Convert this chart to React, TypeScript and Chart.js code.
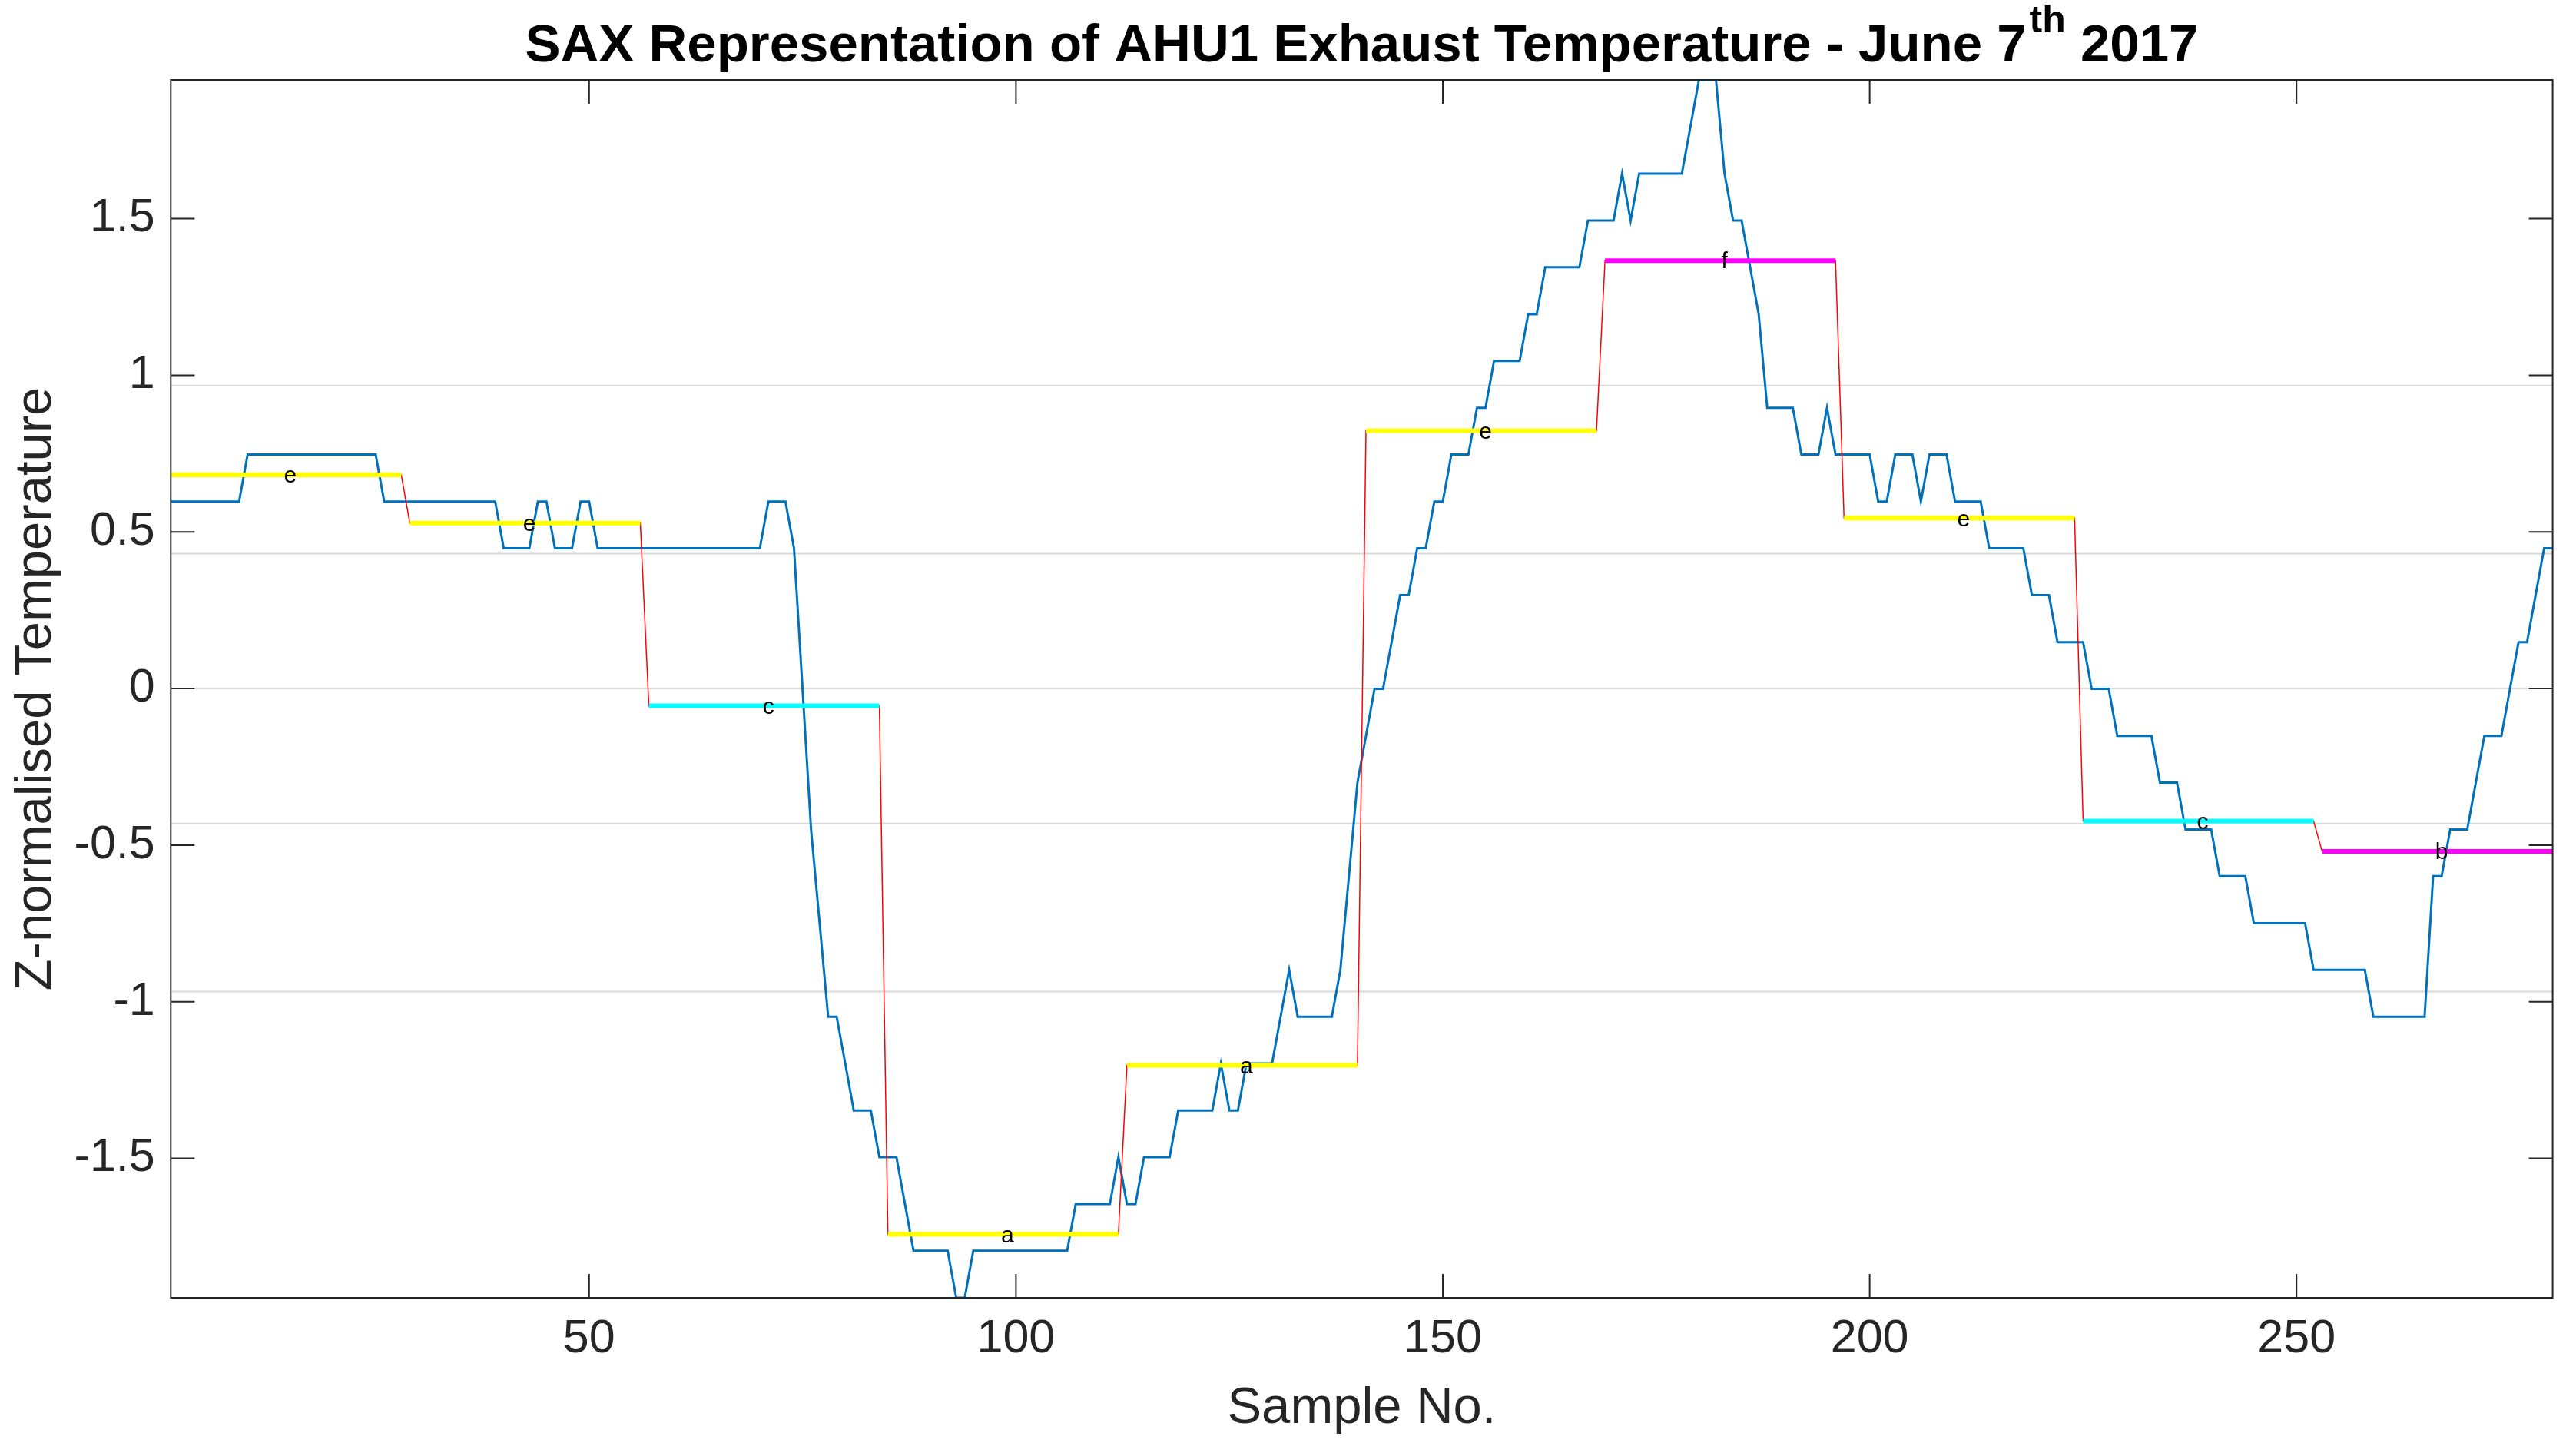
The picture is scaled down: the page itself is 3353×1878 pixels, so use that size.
import React, { useEffect, useRef } from 'react';
import { Chart, registerables } from 'chart.js';

Chart.register(...registerables);

// ---------------- data ----------------
const temperatureZ: number[] = [
  // 1-10
  0.597, 0.597, 0.597, 0.597, 0.597, 0.597, 0.597, 0.597, 0.597, 0.747,
  // 11-20
  0.747, 0.747, 0.747, 0.747, 0.747, 0.747, 0.747, 0.747, 0.747, 0.747,
  // 21-30
  0.747, 0.747, 0.747, 0.747, 0.747, 0.597, 0.597, 0.597, 0.597, 0.597,
  // 31-40
  0.597, 0.597, 0.597, 0.597, 0.597, 0.597, 0.597, 0.597, 0.597, 0.448,
  // 41-50
  0.448, 0.448, 0.448, 0.597, 0.597, 0.448, 0.448, 0.448, 0.597, 0.597,
  // 51-60
  0.448, 0.448, 0.448, 0.448, 0.448, 0.448, 0.448, 0.448, 0.448, 0.448,
  // 61-70
  0.448, 0.448, 0.448, 0.448, 0.448, 0.448, 0.448, 0.448, 0.448, 0.448,
  // 71-80
  0.597, 0.597, 0.597, 0.448, -0.001, -0.45, -0.749, -1.048, -1.048, -1.197,
  // 81-90
  -1.347, -1.347, -1.347, -1.496, -1.496, -1.496, -1.646, -1.795, -1.795, -1.795,
  // 91-100
  -1.795, -1.795, -1.945, -1.945, -1.795, -1.795, -1.795, -1.795, -1.795, -1.795,
  // 101-110
  -1.795, -1.795, -1.795, -1.795, -1.795, -1.795, -1.646, -1.646, -1.646, -1.646,
  // 111-120
  -1.646, -1.496, -1.646, -1.646, -1.496, -1.496, -1.496, -1.496, -1.347, -1.347,
  // 121-130
  -1.347, -1.347, -1.347, -1.197, -1.347, -1.347, -1.197, -1.197, -1.197, -1.197,
  // 131-140
  -1.048, -0.898, -1.048, -1.048, -1.048, -1.048, -1.048, -0.898, -0.599, -0.3,
  // 141-150
  -0.151, -0.001, -0.001, 0.148, 0.298, 0.298, 0.448, 0.448, 0.597, 0.597,
  // 151-160
  0.747, 0.747, 0.747, 0.896, 0.896, 1.046, 1.046, 1.046, 1.046, 1.195,
  // 161-170
  1.195, 1.345, 1.345, 1.345, 1.345, 1.345, 1.494, 1.494, 1.494, 1.494,
  // 171-180
  1.644, 1.494, 1.644, 1.644, 1.644, 1.644, 1.644, 1.644, 1.793, 1.943,
  // 181-190
  1.943, 1.943, 1.644, 1.494, 1.494, 1.345, 1.195, 0.896, 0.896, 0.896,
  // 191-200
  0.896, 0.747, 0.747, 0.747, 0.896, 0.747, 0.747, 0.747, 0.747, 0.747,
  // 201-210
  0.597, 0.597, 0.747, 0.747, 0.747, 0.597, 0.747, 0.747, 0.747, 0.597,
  // 211-220
  0.597, 0.597, 0.597, 0.448, 0.448, 0.448, 0.448, 0.448, 0.298, 0.298,
  // 221-230
  0.298, 0.148, 0.148, 0.148, 0.148, -0.001, -0.001, -0.001, -0.151, -0.151,
  // 231-240
  -0.151, -0.151, -0.151, -0.3, -0.3, -0.3, -0.45, -0.45, -0.45, -0.45,
  // 241-250
  -0.599, -0.599, -0.599, -0.599, -0.749, -0.749, -0.749, -0.749, -0.749, -0.749,
  // 251-260
  -0.749, -0.898, -0.898, -0.898, -0.898, -0.898, -0.898, -0.898, -1.048, -1.048,
  // 261-270
  -1.048, -1.048, -1.048, -1.048, -1.048, -0.599, -0.599, -0.45, -0.45, -0.45,
  // 271-280
  -0.3, -0.151, -0.151, -0.151, -0.001, 0.148, 0.148, 0.298, 0.448, 0.448,
];

const saxSymbols: string[] = ['e', 'e', 'c', 'a', 'a', 'e', 'f', 'e', 'c', 'b'];
const paaValues: number[] = [0.682, 0.528, -0.055, -1.742, -1.203, 0.823, 1.366, 0.544, -0.423, -0.52];
const segmentStarts: number[] = [1, 29, 57, 85, 113, 141, 169, 197, 225, 253];
const segmentEnds: number[] = [28, 56, 84, 112, 140, 168, 196, 224, 252, 280];
const letterSamples: number[] = [15, 43, 71, 99, 127, 155, 183, 211, 239, 267];
const symbolColors: Record<string, string> = {
  a: '#ffff00',
  b: '#ff00ff',
  c: '#00ffff',
  e: '#ffff00',
  f: '#ff00ff',
};
const breakpoints: number[] = [-0.9674, -0.4307, 0, 0.4307, 0.9674];
const xTicks: number[] = [50, 100, 150, 200, 250];
const yTicks: number[] = [-1.5, -1, -0.5, 0, 0.5, 1, 1.5];

const titleMain = 'SAX Representation of AHU1 Exhaust Temperature - June 7';
const titleSup = 'th';
const titleEnd = ' 2017';
const xLabel = 'Sample No.';
const yLabel = 'Z-normalised Temperature';

const FONT = '"Liberation Sans", Arial, Helvetica, sans-serif';
const AXIS_COLOR = '#262626';

// ---------------- plugin ----------------
const matlabFrame = {
  id: 'matlabFrame',
  afterDatasetsDraw(chart: any) {
    const { ctx } = chart;
    const xs = chart.scales.x;
    const ys = chart.scales.y;
    ctx.save();
    ctx.fillStyle = '#000000';
    ctx.font = `30px ${FONT}`;
    ctx.textAlign = 'center';
    ctx.textBaseline = 'middle';
    saxSymbols.forEach((s, k) => {
      ctx.fillText(s, xs.getPixelForValue(letterSamples[k]), ys.getPixelForValue(paaValues[k]) + 2);
    });
    ctx.restore();
  },
  afterDraw(chart: any) {
    const { ctx, chartArea } = chart;
    const { left, right, top, bottom } = chartArea;
    const xs = chart.scales.x;
    const ys = chart.scales.y;
    const tickLen = 31;
    ctx.save();
    // ticks
    ctx.strokeStyle = AXIS_COLOR;
    ctx.lineWidth = 2;
    ctx.beginPath();
    xTicks.forEach((v) => {
      const px = xs.getPixelForValue(v);
      ctx.moveTo(px, bottom);
      ctx.lineTo(px, bottom - tickLen);
      ctx.moveTo(px, top);
      ctx.lineTo(px, top + tickLen);
    });
    yTicks.forEach((v) => {
      const py = ys.getPixelForValue(v);
      ctx.moveTo(left, py);
      ctx.lineTo(left + tickLen, py);
      ctx.moveTo(right, py);
      ctx.lineTo(right - tickLen, py);
    });
    ctx.stroke();
    // box
    ctx.strokeRect(left, top, right - left, bottom - top);

    // title with superscript
    const bigFont = `bold 69px ${FONT}`;
    const supFont = `bold 50px ${FONT}`;
    ctx.font = bigFont;
    const w1 = ctx.measureText(titleMain).width;
    const w3 = ctx.measureText(titleEnd).width;
    ctx.font = supFont;
    const w2 = ctx.measureText(titleSup).width;
    const gap = 4;
    const total = w1 + gap + w2 + w3;
    const cx = (left + right) / 2;
    let x = cx - total / 2;
    const baseY = 80;
    ctx.fillStyle = '#000000';
    ctx.textAlign = 'left';
    ctx.textBaseline = 'alphabetic';
    ctx.font = bigFont;
    ctx.fillText(titleMain, x, baseY);
    x += w1 + gap;
    ctx.font = supFont;
    ctx.fillText(titleSup, x, baseY - 38);
    x += w2;
    ctx.font = bigFont;
    ctx.fillText(titleEnd, x, baseY);
    ctx.restore();
  },
};

export default function App() {
  const canvasRef = useRef<HTMLCanvasElement | null>(null);

  useEffect(() => {
    const canvas = canvasRef.current;
    if (!canvas) return;

    const rawPoints = temperatureZ.map((v, i) => ({ x: i + 1, y: v }));

    const paaPoints: { x: number; y: number }[] = [];
    paaValues.forEach((v, k) => {
      paaPoints.push({ x: segmentStarts[k], y: v });
      paaPoints.push({ x: segmentEnds[k], y: v });
    });

    const segmentDatasets = paaValues.map((v, k) => ({
      label: `sym-${k}`,
      data: [
        { x: segmentStarts[k], y: v },
        { x: segmentEnds[k], y: v },
      ],
      borderColor: symbolColors[saxSymbols[k]],
      borderWidth: 6,
      pointRadius: 0,
      order: 2,
    }));

    const breakpointDatasets = breakpoints.map((b, k) => ({
      label: `bp-${k}`,
      data: [
        { x: 1, y: b },
        { x: 280, y: b },
      ],
      borderColor: '#d9d9d9',
      borderWidth: 2,
      pointRadius: 0,
      order: 6,
    }));

    const yMin = Math.min(...temperatureZ);
    const yMax = Math.max(...temperatureZ);

    const chart = new Chart(canvas, {
      type: 'line',
      data: {
        datasets: [
          ...segmentDatasets,
          {
            label: 'PAA',
            data: paaPoints,
            borderColor: '#ff0000',
            borderWidth: 1.5,
            pointRadius: 0,
            order: 3,
          },
          {
            label: 'Temperature',
            data: rawPoints,
            borderColor: '#0072bd',
            borderWidth: 3,
            pointRadius: 0,
            order: 4,
          },
          ...breakpointDatasets,
        ] as any,
      },
      options: {
        animation: false,
        responsive: false,
        devicePixelRatio: 1,
        events: [],
        layout: { padding: { top: 104, right: 30.4, left: 0, bottom: 0 } },
        elements: { line: { tension: 0 } },
        plugins: {
          legend: { display: false },
          tooltip: { enabled: false },
          title: { display: false },
        },
        scales: {
          x: {
            type: 'linear',
            min: 1,
            max: 280,
            grid: { display: false, drawTicks: false },
            border: { display: false },
            afterFit: (s: any) => {
              s.height = 189;
            },
            afterBuildTicks: (s: any) => {
              s.ticks = xTicks.map((v) => ({ value: v }));
            },
            ticks: {
              color: AXIS_COLOR,
              font: { family: FONT, size: 61 },
              padding: 18,
              maxRotation: 0,
              autoSkip: false,
              callback: (v: any) => String(v),
            },
            title: {
              display: true,
              text: xLabel,
              color: AXIS_COLOR,
              font: { family: FONT, size: 67 },
              padding: { top: 0, bottom: 4 },
            },
          },
          y: {
            type: 'linear',
            min: yMin,
            max: yMax,
            grid: { display: false, drawTicks: false },
            border: { display: false },
            afterFit: (s: any) => {
              s.width = 222.3;
            },
            afterBuildTicks: (s: any) => {
              s.ticks = yTicks.map((v) => ({ value: v }));
            },
            ticks: {
              color: AXIS_COLOR,
              font: { family: FONT, size: 61 },
              padding: 20.6,
              autoSkip: false,
              callback: (v: any) => String(v),
            },
            title: {
              display: true,
              text: yLabel,
              color: AXIS_COLOR,
              font: { family: FONT, size: 67 },
              padding: { top: 7, bottom: 0 },
            },
          },
        },
      } as any,
      plugins: [matlabFrame],
    });

    return () => {
      chart.destroy();
    };
  }, []);

  return (
    <div
      style={{
        position: 'fixed',
        left: 0,
        top: 0,
        width: 3353,
        height: 1878,
        background: '#ffffff',
      }}
    >
      <canvas ref={canvasRef} width={3353} height={1878} style={{ display: 'block' }} />
    </div>
  );
}
